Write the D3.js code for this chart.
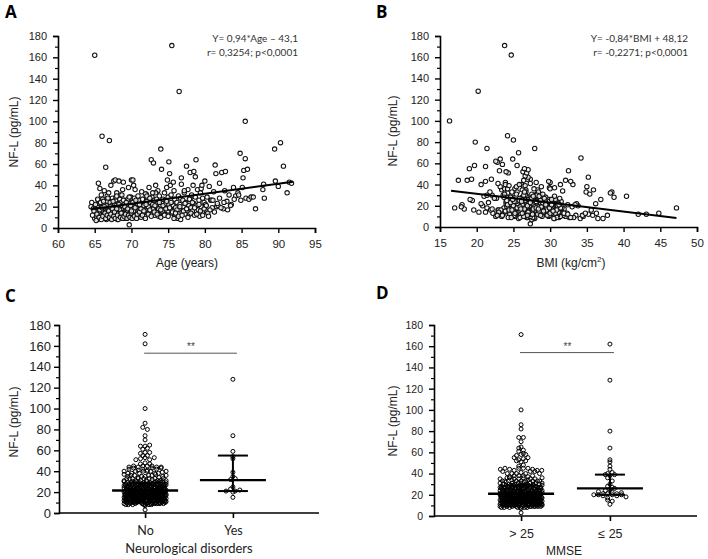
<!DOCTYPE html>
<html><head><meta charset="utf-8">
<script src="https://cdn.jsdelivr.net/npm/d3@7"></script>
<style>body{margin:0;background:#fff}svg{display:block}</style>
</head><body>
<svg id="c" width="708" height="559"></svg>
<script>
// ---------- DATA ----------
// subjects: [age (years), BMI (kg/cm2), NF-L (pg/mL), flag]
// flag: 1 = neurological disorder, 2 = MMSE <= 25, 3 = both, omitted = neither
const subjects = [
[64.5,28.2,20],[64.6,27.1,24],[64.8,17.0,18],[65.0,24.7,162,2],[65.0,31.2,9],[65.1,26.4,18],[65.2,18.0,21],[65.2,33.5,11],[65.3,28.0,15],[65.4,25.1,21],
[65.4,30.6,8],[65.5,23.9,42],[65.5,27.8,26],[65.6,35.2,12],[65.6,24.4,17],[65.7,29.9,37],[65.7,21.6,23],[65.8,26.9,14],[65.8,32.1,10],[65.9,25.6,19],
[65.9,28.7,31],[66.0,24.2,86],[66.0,30.3,13],[66.1,22.5,27],[66.1,27.4,16],[66.2,44.8,13],[66.2,25.9,22],[66.3,29.1,12],[66.3,23.4,35],[66.4,26.2,18],
[66.4,31.8,11],[66.5,21.2,57],[66.5,28.4,20],[66.6,24.9,15],[66.6,34.1,8],[66.7,27.0,25],[66.7,22.1,30],[66.8,29.6,14],[66.8,25.3,19],[66.9,31.4,10],
[66.9,26.6,33],[67.0,25.0,82],[67.0,28.9,17],[67.1,20.3,14],[67.1,30.9,24],[67.2,26.1,40],[67.2,32.6,9],[67.3,24.6,21],[67.3,27.7,14],[67.4,29.3,28],
[67.4,22.9,16],[67.5,35.8,11],[67.5,26.5,19],[67.6,17.5,44],[67.6,28.1,13],[67.7,31.1,22],[67.7,25.4,10],[67.8,27.3,45],[67.8,23.7,18],[67.9,30.0,26],
[67.9,26.8,12],[68.0,21.8,33],[68.0,29.0,15],[68.1,25.7,20],[68.1,36.5,8],[68.2,27.5,23],[68.2,24.3,14],[68.3,30.7,17],[68.3,18.7,44],[68.4,28.6,11],
[68.4,26.0,27],[68.5,32.3,13],[68.5,24.8,19],[68.6,27.9,24],[68.6,23.0,16],[68.7,29.8,10],[68.7,26.3,21],[68.8,31.7,14],[68.8,25.2,36],[68.9,28.3,18],
[68.9,21.2,43],[69.0,27.2,12],[69.0,30.4,22],[69.1,24.5,15],[69.1,33.2,9],[69.2,26.7,25],[69.2,28.8,17],[69.3,18.3,17],[69.3,31.0,11],[69.4,25.8,20],
[69.4,29.4,13],[69.5,22.7,27],[69.5,27.6,16],[69.6,34.5,10],[69.6,26.4,38],[69.7,27.3,3],[69.7,24.1,19],[69.8,30.2,23],[69.8,25.5,14],[69.9,28.5,29],
[69.9,19.6,16],[70.0,26.9,45],[70.0,29.7,18],[70.1,24.7,11],[70.1,31.5,24],[70.2,27.1,15],[70.2,19.3,45],[70.3,28.2,21],[70.3,25.0,13],[70.4,30.8,17],
[70.4,26.2,28],[70.5,23.8,36],[70.5,43.1,12],[70.6,27.8,20],[70.6,24.9,14],[70.7,29.2,25],[70.7,26.0,12],[70.8,31.3,19],[70.8,19.4,25],[70.9,28.0,16],
[70.9,25.7,22],[71.0,37.8,11],[71.0,27.0,26],[71.2,24.4,18],[71.2,29.9,13],[71.4,26.6,34],[71.4,28.7,21,1],[71.6,17.9,19],[71.6,30.5,27],[71.8,25.3,11],
[71.8,27.4,23],[72.0,31.9,17],[72.0,24.2,32,1],[72.2,28.9,14],[72.2,26.1,20],[72.4,23.2,38],[72.4,35.6,16],[72.6,27.2,24],[72.6,25.6,16],[72.7,23.2,64],
[72.8,30.1,19],[72.8,26.8,29],[72.9,28.4,13],[72.9,24.0,22],[73.0,22.8,61],[73.0,27.7,18],[73.1,25.9,26],[73.2,29.0,12],[73.3,23.9,40],[73.4,31.6,20,2],
[73.5,26.3,15,3],[73.6,28.3,35],[73.6,24.6,23],[73.7,34.4,11],[73.8,27.9,30],[73.9,25.1,17],[73.9,30.0,22],[74.0,27.9,74,1],[74.0,32.4,21],[74.1,19.0,55],
[74.2,29.1,14],[74.3,26.5,27],[74.4,28.6,19],[74.5,24.8,33],[74.6,31.0,13],[74.6,27.1,26],[74.7,27.3,23,3],[74.8,25.4,38],[74.9,22.0,45],[75.0,29.6,16],
[75.0,26.4,29],[75.1,22.6,62],[75.1,28.1,22],[75.2,24.3,51,2],[75.3,30.3,18],[75.3,33.1,40],[75.4,27.5,31],[75.5,23.8,171],[75.5,25.9,14],[75.6,36.2,22],
[75.7,28.8,21,2],[75.8,26.7,35],[75.9,24.5,12],[75.9,29.3,27],[76.0,27.6,19],[76.1,25.2,10],[76.2,29.8,24],[76.3,26.9,9],[76.4,23.6,30],[76.5,20.2,128,3],
[76.5,28.5,17],[76.6,31.2,22],[76.7,24.8,28],[76.8,27.0,47],[76.8,22.9,41],[76.9,30.4,15],[77.0,26.1,26],[77.1,28.9,20,2],[77.2,25.5,33],[77.3,31.8,13],
[77.4,27.4,24],[77.5,19.7,58],[77.6,29.4,18],[77.7,24.2,36],[77.8,27.7,21],[77.9,34.8,13],[78.0,26.3,52],[78.0,29.0,27],[78.1,24.7,19,2],[78.2,28.2,31],
[78.3,30.8,16],[78.4,25.8,40,2],[78.5,27.2,23],[78.5,23.1,53],[78.6,42.0,12],[78.7,26.6,48],[78.7,28.0,29],[78.8,24.9,64,2],[78.9,30.1,21,3],[79.0,27.8,36,2],
[79.1,25.3,17,2],[79.2,29.7,26],[79.3,22.6,11,2],[79.4,28.4,33],[79.5,26.0,20,3],[79.5,30.6,37],[79.6,31.4,40],[79.7,24.1,28],[79.8,27.5,15],[79.9,29.9,24,2],
[80.0,26.4,44],[80.1,28.7,22,2],[80.2,25.0,16],[80.3,40.4,29],[80.4,27.1,14,2],[80.6,24.4,39,3],[80.8,29.2,26],[81.0,26.8,19,2],[81.2,31.7,34],[81.4,23.5,59,1],
[81.5,26.8,51],[81.6,33.8,20,2],[81.8,25.6,21,2],[82.0,30.0,42],[82.0,27.6,28],[82.3,24.0,52,1],[82.5,29.5,18,2],[82.7,26.2,35,1],[82.8,32.5,53,2],[83.0,27.9,25,3],
[83.3,25.4,31],[83.6,29.1,22,3],[83.9,35.0,38],[84.2,28.2,30,2],[84.5,26.7,33,1],[84.8,25.7,70],[84.9,30.7,26,2],[85.1,28.8,38,2],[85.2,35.2,47,2],[85.3,27.0,54,1],
[85.5,16.3,100],[85.5,34.2,65],[85.6,29.4,28,2],[85.8,26.5,55],[86.0,31.3,27,2],[86.3,28.5,29],[86.9,47.2,18],[88.0,27.3,41,2],[88.1,38.7,28],[89.5,21.4,74],
[89.6,32.1,44,2],[90.0,26.6,39,2],[90.3,19.8,80,2],[90.7,25.5,58],[91.2,38.4,33,2],[91.5,29.8,43],[91.8,28.1,42],[77.2,35.9,35],[71.9,38.2,32],[80.9,36.9,26],
[67.9,21.0,29],[70.3,20.6,40],[72.1,21.4,30],[69.0,19.1,26],[74.4,36.3,13],[76.7,37.2,8],[73.3,34.9,33],[75.7,32.8,43],[66.3,33.6,22],[68.5,35.4,31],
[64.7,26.0,12],[64.9,23.3,16],[65.1,29.0,22],[65.2,27.5,7],[65.3,31.9,13],[65.4,22.4,27],[65.6,26.7,10],[65.7,30.1,17],[65.8,24.0,24],[65.9,27.9,8],
[66.0,33.0,19],[66.1,25.1,11],[66.2,28.2,25],[66.4,23.0,14],[66.5,30.9,9],[66.6,26.3,21],[66.7,32.4,12],[66.8,24.6,28],[66.9,28.8,16],[67.0,22.6,10],
[67.1,27.2,20],[67.2,29.7,13],[67.3,25.7,8],[67.4,31.6,18],[67.5,24.1,25],[67.6,27.0,11],[67.7,29.5,15],[67.8,25.9,9],[67.9,33.4,21],[68.0,26.6,30],
[68.1,23.6,12],[68.2,30.5,8],[68.3,27.1,22],[68.4,24.7,17],[68.5,28.9,10],[68.6,31.2,14],[68.7,23.8,31],[68.8,27.8,9],[68.9,25.0,26],[69.0,29.9,11],
[69.1,26.9,20],[69.2,22.2,13],[69.3,28.0,24],[69.4,32.8,9],[69.5,25.3,18],[69.6,27.5,12],[69.7,30.6,29],[69.8,23.4,10],[69.9,26.2,21],[70.0,31.1,14],
[70.1,27.6,9],[70.2,25.4,24],[70.3,29.5,16],[70.4,22.8,11],[70.5,27.9,19],[70.6,30.2,26],[70.7,24.3,9],[70.8,28.6,13],[70.9,26.4,30],[71.1,29.0,22],
[71.1,23.9,15],[71.3,27.3,10],[71.3,31.4,18],[71.5,25.8,27],[71.5,28.3,12],[71.7,24.8,21],[71.7,30.3,16],[71.9,26.8,9],[72.1,28.7,25],[72.3,25.2,13],
[72.3,31.0,20],[72.5,27.7,17],[72.5,23.7,28],[72.7,29.6,11],[72.9,26.5,33],[73.1,28.5,15],[73.2,24.2,21],[73.4,27.4,27],[73.5,30.7,13],[73.7,25.6,18],
[73.8,29.3,24],[74.0,26.6,10],[74.2,24.4,16],[74.3,31.2,21],[74.5,27.2,12],[74.7,29.9,18],[74.8,25.8,25],[75.0,23.5,11],[75.2,28.4,19],[75.4,26.1,24],
[75.6,29.1,15],[75.8,24.7,9],[76.0,30.0,13],[76.2,26.5,17],[76.4,28.7,11],[76.6,25.0,20],[76.9,27.3,12],[77.1,30.9,16],[77.3,24.6,23],[77.5,28.1,18],
[77.7,26.4,10],[77.9,29.2,27],[78.1,27.0,14],[78.3,25.1,24],[78.6,28.8,19],[78.9,26.2,13],[79.2,30.3,22],[79.4,24.8,16],[79.7,27.6,12],[79.9,25.5,18],
[80.2,29.4,21],[80.5,26.9,11],[80.7,28.4,17],[81.1,24.9,26],[81.3,30.4,15],[81.7,27.3,23],[82.2,25.9,19],[82.6,28.1,24],[83.1,26.0,17],[83.5,30.2,21],
[84.0,27.5,27],[84.6,29.0,31],[86.6,27.7,29],[87.9,30.0,36],[66.3,20.8,20],[68.0,21.4,18],[70.0,21.9,16],[72.0,20.6,22],[74.0,22.1,17],[76.0,21.2,14]
];

// regression lines: [slope, intercept], x range drawn
const regAge = [0.94, -43.1];
const regAgeRange = [64.5, 92];
const regBmi = [-0.84, 48.12];
const regBmiRange = [16.5, 47.2];
const statAge = ["Y= 0,94*Age \u2013 43,1", "r= 0,3254; p<0,0001"];
const statBmi = ["Y= -0,84*BMI + 48,12", "r= -0,2271; p<0,0001"];

// column panels
const neuroCats = ["No", "Yes"];
const neuroMedian = [21.5, 31.5];
const neuroQ1 = [15, 21];
const neuroQ3 = [29, 55];
const mmseCats = ["> 25", "\u2264 25"];
const mmseMedian = [21, 26];
const mmseQ1 = [15, 20];
const mmseQ3 = [29, 39];
const sigBracket = [153, 154];   // y value of the bracket (C, D)
const yTicks = [0, 20, 40, 60, 80, 100, 120, 140, 160, 180];
const yMinor = [10, 30, 50, 70, 90, 110, 130, 150, 170];
const ageTicks = [60, 65, 70, 75, 80, 85, 90, 95];
const bmiTicks = [15, 20, 25, 30, 35, 40, 45, 50];

// ---------- DRAW ----------
const svg = d3.select("#c");
svg.append("rect").attr("width", 708).attr("height", 559).attr("fill", "#fff");
const AR = "'Liberation Sans', Arial, sans-serif";
const LT = "Lato, 'Open Sans', sans-serif";

function yAxis(g, y, x0, fs) {
  const a = g.append("g").attr("transform", `translate(${x0},0)`)
    .call(d3.axisLeft(y).tickValues(yTicks).tickSize(5).tickPadding(fs > 12 ? 3 : 6));
  a.select(".domain").attr("stroke-width", 1.6);
  a.selectAll(".tick line").attr("stroke-width", 1.4);
  a.selectAll("text").attr("font-family", AR).attr("font-size", fs).attr("fill", "#222");
  const m = g.append("g").attr("transform", `translate(${x0},0)`)
    .call(d3.axisLeft(y).tickValues(yMinor).tickSize(3).tickFormat(""));
  m.select(".domain").remove();
  m.selectAll(".tick line").attr("stroke-width", 1.2);
}
function letter(t, x, y) {
  svg.append("text").attr("x", x).attr("y", y).text(t)
    .attr("font-family", "'Open Sans', sans-serif").attr("font-weight", 700).attr("font-size", 17);
}
function yLabel(x, y) {
  svg.append("text").attr("transform", `translate(${x},${y}) rotate(-90)`)
    .attr("text-anchor", "middle").attr("dominant-baseline", "central")
    .attr("font-family", AR).attr("font-size", 12).attr("fill", "#222").text("NF-L (pg/mL)");
}

function scatterPanel(o) {
  const g = svg.append("g");
  const x = d3.scaleLinear().domain(o.xdom).range([o.x0, o.x1]);
  const y = d3.scaleLinear().domain([0, 180]).range([o.y0, o.y180]);
  yAxis(g, y, o.x0, 11);
  const xa = g.append("g").attr("transform", `translate(0,${o.y0})`)
    .call(d3.axisBottom(x).tickValues(o.ticks).tickSize(5).tickPadding(7));
  xa.select(".domain").attr("stroke-width", 1.6);
  xa.selectAll(".tick line").attr("stroke-width", 1.4);
  xa.selectAll("text").attr("font-family", AR).attr("font-size", 11.5).attr("fill", "#222");
  g.append("g").selectAll("circle").data(subjects).join("circle")
    .attr("cx", d => x(d[o.key])).attr("cy", d => y(d[2])).attr("r", 2.2)
    .attr("fill", "#fff").attr("stroke", "#111").attr("stroke-width", 1.05).attr("fill-opacity", 0.8);
  const f = v => o.reg[0] * v + o.reg[1];
  g.append("line").attr("x1", x(o.range[0])).attr("y1", y(f(o.range[0])))
    .attr("x2", x(o.range[1])).attr("y2", y(f(o.range[1])))
    .attr("stroke", "#000").attr("stroke-width", 2);
  o.stat.forEach((s, i) => g.append("text").attr("x", o.statX).attr("y", 42 + i * 14)
    .attr("text-anchor", "end").attr("font-family", LT).attr("font-size", 10).attr("fill", "#333").text(s));
  return g;
}

scatterPanel({xdom: [60, 95], x0: 58, x1: 315, y0: 228, y180: 36, ticks: ageTicks, key: 0,
  reg: regAge, range: regAgeRange, stat: statAge, statX: 298});
scatterPanel({xdom: [15, 50], x0: 440, x1: 697, y0: 227, y180: 36, ticks: bmiTicks, key: 1,
  reg: regBmi, range: regBmiRange, stat: statBmi, statX: 688});

letter("A", 5, 18); letter("B", 376, 18); letter("C", 5, 302); letter("D", 376, 299);
yLabel(14, 132); yLabel(393, 131); yLabel(14, 422); yLabel(393, 421);

svg.append("text").attr("x", 187).attr("y", 267).attr("text-anchor", "middle")
  .attr("font-family", AR).attr("font-size", 12).attr("fill", "#222").text("Age (years)");
const bl = svg.append("text").attr("x", 571).attr("y", 267).attr("text-anchor", "middle")
  .attr("font-family", AR).attr("font-size", 12).attr("fill", "#222");
bl.append("tspan").text("BMI (kg/cm");
bl.append("tspan").attr("dy", -5).attr("font-size", 8).text("2");
bl.append("tspan").attr("dy", 5).text(")");

function columnPanel(o) {
  const g = svg.append("g");
  const x = d3.scalePoint().domain(o.cats).range([o.x0, o.x1]).padding(0.98);
  const y = d3.scaleLinear().domain([0, 180]).range([o.y0, o.y180]);
  yAxis(g, y, o.x0, o.fs);
  const xa = g.append("g").attr("transform", `translate(0,${o.y0})`)
    .call(d3.axisBottom(x).tickSize(5).tickPadding(8));
  xa.select(".domain").attr("stroke-width", 1.6).attr("d", `M${o.x0},0H${o.x1}`);
  xa.selectAll(".tick line").attr("stroke-width", 1.6);
  xa.selectAll("text").attr("font-family", o.catFont).attr("font-size", 12.5).attr("fill", "#222");
  const groups = o.cats.map((c, i) => subjects.filter(d => o.member(d) === i).map(d => d[2]));
  const rowH = 3.4, r = 2.0, maxHalf = 21;
  groups.forEach((vals, gi) => {
    const cx = x(o.cats[gi]);
    const bins = d3.groups(vals.map(v => ({v, py: y(v)})), p => Math.round(p.py / rowH));
    const pts = [];
    bins.forEach(([, arr]) => {
      const n = arr.length;
      const s = n > 1 ? Math.min(2 * r + 0.6, 2 * maxHalf / (n - 1)) : 0;
      arr.forEach((p, i) => pts.push({x: cx + (i - (n - 1) / 2) * s, y: p.py}));
    });
    g.append("g").selectAll("circle").data(pts).join("circle")
      .attr("cx", p => p.x).attr("cy", p => p.y).attr("r", r)
      .attr("fill", "none").attr("stroke", "#000").attr("stroke-width", 1);
    // median and IQR
    g.append("line").attr("x1", cx - 33).attr("x2", cx + 33)
      .attr("y1", y(o.med[gi])).attr("y2", y(o.med[gi])).attr("stroke", "#000").attr("stroke-width", 2.4);
    g.append("line").attr("x1", cx).attr("x2", cx)
      .attr("y1", y(o.q1[gi])).attr("y2", y(o.q3[gi])).attr("stroke", "#000").attr("stroke-width", 2);
    [o.q1[gi], o.q3[gi]].forEach(q => g.append("line").attr("x1", cx - 15).attr("x2", cx + 15)
      .attr("y1", y(q)).attr("y2", y(q)).attr("stroke", "#000").attr("stroke-width", 2));
  });
  // significance bracket
  const by = y(o.sig);
  g.append("line").attr("x1", x(o.cats[0]) - 1).attr("x2", x(o.cats[1]) + 4)
    .attr("y1", by).attr("y2", by).attr("stroke", "#555").attr("stroke-width", 1);
  g.append("text").attr("x", (x(o.cats[0]) + x(o.cats[1])) / 2 + 2).attr("y", by - 3)
    .attr("text-anchor", "middle").attr("font-family", AR).attr("font-size", 10).attr("fill", "#444").text("**");
  g.append("text").attr("x", o.labX).attr("y", o.labY).attr("text-anchor", "middle")
    .attr("font-family", o.labFont).attr("font-size", o.labFs).attr("fill", "#222").text(o.label);
}

columnPanel({cats: neuroCats, x0: 59, x1: 319, y0: 513, y180: 325, fs: 13,
  member: d => (d[3] === 1 || d[3] === 3) ? 1 : 0,
  med: neuroMedian, q1: neuroQ1, q3: neuroQ3, sig: sigBracket[0],
  catFont: LT, label: "Neurological disorders", labX: 189, labY: 553, labFont: LT, labFs: 13});
columnPanel({cats: mmseCats, x0: 434, x1: 697, y0: 516, y180: 325, fs: 10.5,
  member: d => (d[3] === 2 || d[3] === 3) ? 1 : 0,
  med: mmseMedian, q1: mmseQ1, q3: mmseQ3, sig: sigBracket[1],
  catFont: AR, label: "MMSE", labX: 564, labY: 555, labFont: AR, labFs: 12});
</script>
</body></html>
